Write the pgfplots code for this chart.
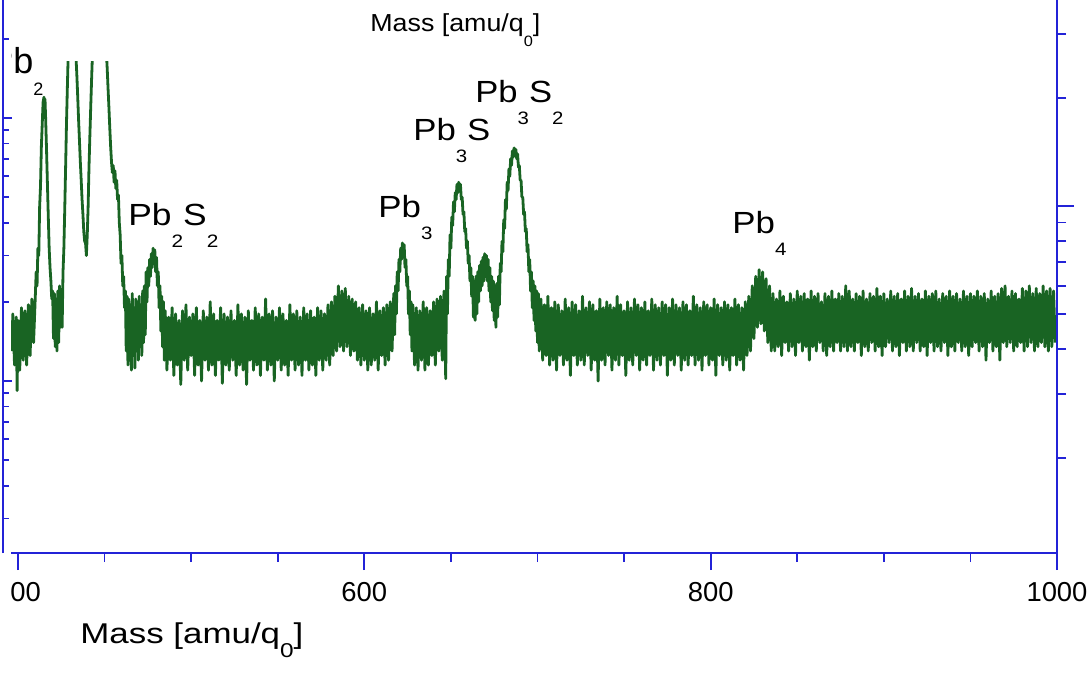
\documentclass[border=0pt]{standalone}
\usepackage{fontspec}
\setmainfont{Liberation Sans}
\usepackage{graphicx}
\usepackage{pgfplots}
\pgfplotsset{compat=1.18}
\definecolor{axblue}{RGB}{35,35,215}
\definecolor{specgreen}{RGB}{25,100,35}
\newcommand\psub[1]{\raisebox{-11pt}{\fontsize{9}{10}\selectfont #1}}
\newcommand\lab[2]{\resizebox{#1}{\height}{\fontsize{15.3}{17}\selectfont #2}}
\begin{document}
\begin{tikzpicture}
\useasboundingbox (0pt,0pt) rectangle (546pt,-338pt);
\clip (0pt,0pt) rectangle (546pt,-338pt);
\begin{axis}[at={(5.5pt,-276.5pt)}, anchor=south west, scale only axis,
  width=523pt, height=246pt, xmin=395.96, xmax=1000,
  ymode=log, ymin=0.2218, ymax=16.475,
  axis x line*=bottom, axis y line=none,
  axis line style={-,draw=axblue,line width=0.9pt},
  xtick={400,600,800,1000}, xticklabels={400,600,800,1000},
  minor xtick={450,500,550,650,700,750,850,900,950},
  tick align=outside, major tick length=8.5pt, minor tick length=4.5pt,
  tick style={axblue,line width=0.9pt},
  xticklabel style={font=\fontsize{13.7}{15}\selectfont, inner sep=0pt, anchor=north, yshift=-6pt}]
\addplot[specgreen, line width=1.4pt, line join=round] coordinates {
(396.5,1.30)(397,1.80)(398,1.15)(399,1.75)(399.5,0.92)(400,1.70)(401,1.10)(402,1.90)(403,1.20)(404,1.85)(405,1.15)(406,1.95)(407,1.25)(408,2.05)(409,1.40)
(410,2.10)(410.5,2.60)(411,2.30)(411.5,3.20)(412,3.00)(412.5,4.60)(413,5.50)(413.5,7.80)(414,9.50)(414.5,11.5)(415,12.0)(415.3,11.2)(415.6,11.8)(416,9.80)(416.5,7.50)(417,5.60)(417.5,4.20)(418,3.20)(418.5,2.70)(419,2.40)(419.5,2.05)
(420,2.20)(420.5,1.45)(421,2.15)(421.5,1.35)(422,2.05)(422.5,1.30)(423,2.20)(423.5,1.40)(424,2.30)(424.5,1.60)(425,2.10)(425.5,1.60)
(426,2.60)(426.5,3.20)(427,4.50)(427.5,6.50)(428,9.50)(428.5,13.0)(429,17.5)(429.5,23.0)(430,28.0)(431,32.0)(432,30.0)(433,22.0)(433.5,17.0)(434,14.5)(434.5,12.0)(435,9.80)(435.5,8.20)(436,6.80)(436.5,5.80)(437,4.90)(437.5,4.30)(438,3.70)(438.5,3.40)(439,3.35)(439.5,3.00)
(440,3.60)(440.5,4.60)(441,6.50)(441.5,8.50)(442,11.0)(442.5,14.0)(443,17.5)(444,25.0)(445,35.0)(446,42.0)(447,45.0)(448,42.0)(449,35.0)(450,26.0)(451,18.0)(451.5,15.5)(452,13.0)(452.5,11.0)(453,9.20)(453.5,7.80)(454,6.80)(454.5,6.20)(455,6.60)(455.5,5.70)(456,6.30)(456.5,5.40)(457,5.80)(457.5,4.90)(458,5.10)(458.5,4.00)(459,3.60)(459.5,2.80)(460,3.00)(460.5,2.30)(461,2.50)(461.5,1.90)(462,2.20)
(462.5,1.30)(463,2.10)(463.5,1.15)(464,2.05)(464.5,1.20)(465,1.95)(465.5,1.10)(466,2.15)(466.5,1.25)(467,1.90)(467.5,1.12)(468,2.05)(468.5,1.30)(469,2.00)(469.5,1.20)(470,2.10)(470.5,1.35)(471,1.95)(471.5,1.25)(472,2.20)(472.5,1.40)(473,2.30)(473.5,1.50)(474,2.60)
(474.5,2.00)(475,2.70)(475.5,2.30)(476,2.90)(476.5,2.50)(477,3.05)(477.5,2.70)(478,3.20)(478.5,2.80)(479,3.15)(479.5,2.60)(480,2.95)(480.5,2.30)(481,2.60)(481.5,1.90)(482,2.30)(482.5,1.55)(483,2.10)(483.5,1.35)(484,2.00)(484.5,1.20)
(485,1.85)(486,1.10)(487,1.75)(488,1.20)(489,1.90)(490,1.05)(491,1.80)(492,1.15)(493,1.70)(494,0.97)(495,1.85)(496,1.20)(497,1.95)(498,1.10)(499,1.75)(500,1.25)(501,1.80)(502,1.05)(503,1.90)(504,1.15)(505,1.70)(506,1.00)(507,1.85)(508,1.20)(509,1.75)(510,1.10)
(511,2.00)(512,1.15)(513,1.80)(514,1.05)(515,1.70)(516,1.20)(517,1.90)(518,0.98)(519,1.80)(520,1.15)(521,1.75)(522,1.10)(523,1.85)(524,1.20)(525,1.70)(526,1.05)(527,1.95)(528,1.15)(529,1.80)(530,1.10)(531,1.75)(532,0.97)(533,1.85)(534,1.20)(535,1.70)(536,1.10)
(537,1.90)(538,1.15)(539,1.80)(540,1.05)(541,1.75)(542,1.20)(543,2.05)(544,1.10)(545,1.80)(546,1.15)(547,1.85)(548,1.00)(549,1.75)(550,1.20)(551,1.90)(552,1.10)(553,1.80)(554,1.15)(555,1.70)(556,1.05)(557,1.95)(558,1.20)(559,1.80)(560,1.10)
(561,1.85)(562,1.15)(563,1.75)(564,1.05)(565,1.90)(566,1.20)(567,1.80)(568,1.10)(569,1.85)(570,1.15)(571,1.75)(572,1.05)(573,1.90)(574,1.20)(575,1.85)(576,1.10)(577,1.80)(578,1.20)(579,1.95)(580,1.15)(581,2.00)(582,1.25)
(583,2.10)(584,1.30)(585,2.30)(586,1.35)(587,2.20)(588,1.30)(589,2.25)(590,1.35)(591,2.10)(592,1.25)(593,2.05)(594,1.30)(595,2.00)(596,1.20)(597,1.90)(598,1.15)
(599,1.95)(600,1.20)(601,1.85)(602,1.10)(603,1.90)(604,1.15)(605,1.80)(606,1.20)(607,2.00)(608,1.10)(609,1.85)(610,1.25)(611,1.90)(612,1.15)(613,1.95)(614,1.20)(615,2.00)(616,1.30)(617,2.15)
(617.5,1.50)(618,2.30)(618.5,1.80)(619,2.60)(619.5,2.20)(620,2.90)(620.5,2.60)(621,3.20)(621.5,2.90)(622,3.35)(622.5,3.00)(623,3.30)(623.5,2.70)(624,2.90)(624.5,2.30)(625,2.50)(625.5,1.80)(626,2.20)(626.5,1.50)(627,2.00)(627.5,1.30)
(628,1.95)(629,1.15)(630,1.90)(631,1.10)(632,1.85)(633,1.20)(634,2.00)(635,1.10)(636,1.90)(637,1.15)(638,1.85)(639,1.25)(640,2.00)(641,1.15)(642,2.05)(643,1.30)(644,2.10)(645,1.20)(646,2.20)(647,1.02)(647.5,2.50)
(648,1.80)(648.5,2.90)(649,2.50)(649.5,3.60)(650,3.20)(650.5,4.20)(651,3.90)(651.5,4.80)(652,4.40)(652.5,5.20)(653,4.90)(653.5,5.60)(654,5.20)(654.5,5.70)(655,5.30)(655.5,5.60)(656,4.90)(656.5,5.00)(657,4.30)(657.5,4.40)(658,3.70)(658.5,3.80)(659,3.20)(659.5,3.40)(660,2.80)(660.5,3.00)(661,2.40)(661.5,2.70)(662,2.10)
(662.5,2.50)(663,1.75)(663.5,2.40)(664,1.70)(664.5,2.50)(665,1.80)(665.5,2.60)(666,2.00)(666.5,2.75)(667,2.20)
(667.5,2.85)(668,2.30)(668.5,2.95)(669,2.40)(669.5,3.05)(670,2.50)(670.5,3.00)(671,2.40)(671.5,2.90)(672,2.20)(672.5,2.70)(673,2.00)(673.5,2.50)(674,1.85)(674.5,2.40)
(675,1.70)(675.5,2.30)(676,1.60)(676.5,2.35)(677,1.75)(677.5,2.50)(678,1.95)
(678.5,2.80)(679,2.60)(679.5,3.40)(680,3.10)(680.5,4.10)(681,3.80)(681.5,4.90)(682,4.50)(682.5,5.70)(683,5.30)(683.5,6.40)(684,6.00)(684.5,7.00)(685,6.60)(685.5,7.50)(686,7.10)(686.5,7.70)(687,7.20)(687.5,7.60)(688,7.00)(688.5,7.30)(689,6.50)(689.5,6.60)(690,5.80)(690.5,5.80)(691,5.00)(691.5,5.00)(692,4.30)(692.5,4.40)(693,3.70)(693.5,3.80)(694,3.10)(694.5,3.30)(695,2.60)(695.5,2.90)(696,2.20)(696.5,2.60)(697,1.90)(697.5,2.40)(698,1.70)(698.5,2.30)(699,1.55)(699.5,2.20)(700,1.40)(700.5,2.15)(701,1.30)
(702,2.05)(703,1.20)(704,1.95)(705,1.25)(706,2.10)(707,1.15)(708,1.90)(709,1.20)(710,2.00)(711,1.10)(712,1.95)(713,1.25)(714,1.85)(715,1.15)(716,2.05)(717,1.20)(718,1.90)(719,1.05)(720,2.00)(721,1.25)(722,1.95)(723,1.15)(724,1.85)(725,1.20)
(726,2.10)(727,1.15)(728,1.90)(729,1.25)(730,2.00)(731,1.10)(732,1.95)(733,1.20)(734,1.85)(735,1.00)(736,2.05)(737,1.20)(738,1.90)(739,1.15)(740,2.00)(741,1.25)(742,1.95)(743,1.10)(744,1.90)(745,1.20)(746,2.10)(747,1.15)(748,1.95)(749,1.25)
(750,1.85)(751,1.05)(752,2.00)(753,1.20)(754,1.90)(755,1.15)(756,2.05)(757,1.25)(758,1.95)(759,1.10)(760,1.90)(761,1.20)(762,2.00)(763,1.15)(764,1.85)(765,1.25)(766,2.05)(767,1.10)(768,1.95)(769,1.20)(770,1.90)(771,1.15)(772,2.00)(773,1.25)
(774,1.95)(775,1.05)(776,1.90)(777,1.20)(778,2.05)(779,1.15)(780,1.95)(781,1.25)(782,1.90)(783,1.10)(784,2.00)(785,1.20)(786,1.95)(787,1.15)(788,1.85)(789,1.25)(790,2.10)(791,1.15)(792,1.95)(793,1.20)(794,1.90)(795,1.10)(796,2.00)(797,1.25)
(798,1.95)(799,1.15)(800,1.90)(801,1.20)(802,2.05)(803,1.05)(804,1.95)(805,1.25)(806,1.90)(807,1.15)(808,2.00)(809,1.20)(810,1.95)(811,1.10)(812,1.90)(813,1.25)(814,2.05)(815,1.15)(816,1.95)(817,1.20)(818,1.90)(819,1.10)(820,2.00)(821,1.25)(822,2.10)(823,1.30)
(824,2.30)(825,1.45)(826,2.50)(827,1.60)(828,2.65)(829,1.65)(830,2.60)(831,1.55)(832,2.45)(833,1.40)(834,2.30)(835,1.30)
(836,2.15)(837,1.30)(838,2.05)(839,1.35)(840,2.20)(841,1.25)(842,2.10)(843,1.40)(844,2.00)(845,1.30)(846,2.15)(847,1.35)(848,2.05)(849,1.25)(850,2.20)(851,1.40)(852,2.10)(853,1.30)(854,2.15)(855,1.35)(856,2.05)(857,1.20)(858,2.20)(859,1.35)
(860,2.10)(861,1.30)(862,2.15)(863,1.40)(864,2.00)(865,1.30)(866,2.15)(867,1.25)(868,2.10)(869,1.35)(870,2.20)(871,1.30)(872,2.05)(873,1.40)(874,2.15)(875,1.30)(876,2.10)(877,1.35)(878,2.30)(879,1.30)(880,2.20)(881,1.35)(882,2.05)(883,1.30)
(884,2.15)(885,1.40)(886,2.10)(887,1.25)(888,2.20)(889,1.35)(890,2.05)(891,1.30)(892,2.15)(893,1.40)(894,2.10)(895,1.30)(896,2.25)(897,1.35)(898,2.10)(899,1.25)(900,2.15)(901,1.35)(902,2.05)(903,1.40)(904,2.20)(905,1.30)(906,2.10)(907,1.35)
(908,2.15)(909,1.25)(910,2.05)(911,1.40)(912,2.20)(913,1.30)(914,2.10)(915,1.35)(916,2.25)(917,1.30)(918,2.10)(919,1.40)(920,2.15)(921,1.30)(922,2.05)(923,1.35)(924,2.20)(925,1.25)(926,2.10)(927,1.40)(928,2.15)(929,1.30)(930,2.20)(931,1.35)
(932,2.05)(933,1.30)(934,2.15)(935,1.40)(936,2.10)(937,1.25)(938,2.20)(939,1.35)(940,2.10)(941,1.30)(942,2.15)(943,1.40)(944,2.05)(945,1.30)(946,2.20)(947,1.35)(948,2.10)(949,1.25)(950,2.15)(951,1.35)(952,2.10)(953,1.40)(954,2.20)(955,1.30)
(956,2.10)(957,1.35)(958,2.15)(959,1.20)(960,2.05)(961,1.40)(962,2.20)(963,1.30)(964,2.10)(965,1.35)(966,2.15)(967,1.20)(968,2.25)(969,1.40)(970,2.30)(971,1.35)(972,2.10)(973,1.40)(974,2.20)(975,1.30)(976,2.15)(977,1.35)(978,2.05)(979,1.40)
(980,2.25)(981,1.30)(982,2.20)(983,1.35)(984,2.30)(985,1.40)(986,2.15)(987,1.30)(988,2.25)(989,1.35)(990,2.15)(991,1.40)(992,2.30)(993,1.35)(994,2.20)(995,1.30)(996,2.25)(997,1.35)(998,2.20)(999,1.40)
};
\end{axis}
% peak labels
\node[anchor=base west, inner sep=0pt] at (-5.5pt,-36.5pt) {\fontsize{18}{20}\selectfont Pb\raisebox{-11pt}{\fontsize{9}{10}\selectfont 2}};
\node[anchor=base west, inner sep=0pt] at (64pt,-112.5pt) {\lab{45pt}{Pb\psub{2}S\psub{2}}};
\node[anchor=base west, inner sep=0pt] at (189pt,-108.5pt) {\lab{27pt}{Pb\psub{3}}};
\node[anchor=base west, inner sep=0pt] at (206.5pt,-70pt) {\lab{38.5pt}{Pb\psub{3}S}};
\node[anchor=base west, inner sep=0pt] at (237.5pt,-51pt) {\lab{44pt}{Pb\psub{3}S\psub{2}}};
\node[anchor=base west, inner sep=0pt] at (366pt,-116.5pt) {\lab{27pt}{Pb\psub{4}}};
% axis label
\node[anchor=base west, inner sep=0pt] at (40pt,-321.5pt) {\resizebox{111.5pt}{\height}{\fontsize{14.3}{16}\selectfont Mass [amu/q\raisebox{-7pt}{\fontsize{10}{11}\selectfont 0}]}};
% cover of the neighbouring panel
\fill[white] (0pt,1pt) rectangle (5.5pt,-339pt);
\begin{axis}[at={(1.5pt,-276.5pt)}, anchor=south west, scale only axis,
  width=527pt, height=296.5pt, xmin=0, xmax=1,
  ymode=log, ymin=0.2218, ymax=39.89,
  axis x line=none, axis y line*=left,
  axis line style={-,draw=axblue,line width=0.9pt},
  ytick={1,10}, minor ytick={0.3,0.4,0.5,0.6,0.7,0.8,0.9,2,3,4,5,6,7,8,9,20,30},
  yticklabels={}, tick align=inside, major tick length=4.5pt, minor tick length=3pt,
  tick style={axblue,line width=0.9pt}]
\end{axis}
\begin{axis}[at={(1.5pt,-276.5pt)}, anchor=south west, scale only axis,
  width=527pt, height=296.5pt, xmin=0, xmax=1,
  ymode=log, ymin=1.0867, ymax=48.24,
  axis x line=none, axis y line*=right,
  axis line style={-,draw=axblue,line width=0.9pt},
  ytick={10}, minor ytick={2,3,4,5,6,7,8,9,20,30,40},
  yticklabels={}, tick align=outside, major tick length=8.5pt, minor tick length=4.5pt,
  tick style={axblue,line width=0.9pt}]
\end{axis}
\node[anchor=base west, inner sep=0pt] at (185pt,-15.5pt) {\resizebox{85pt}{\height}{\fontsize{12.3}{14}\selectfont Mass [amu/q\raisebox{-7.5pt}{\fontsize{7.5}{8}\selectfont 0}]}};
\end{tikzpicture}
\end{document}
